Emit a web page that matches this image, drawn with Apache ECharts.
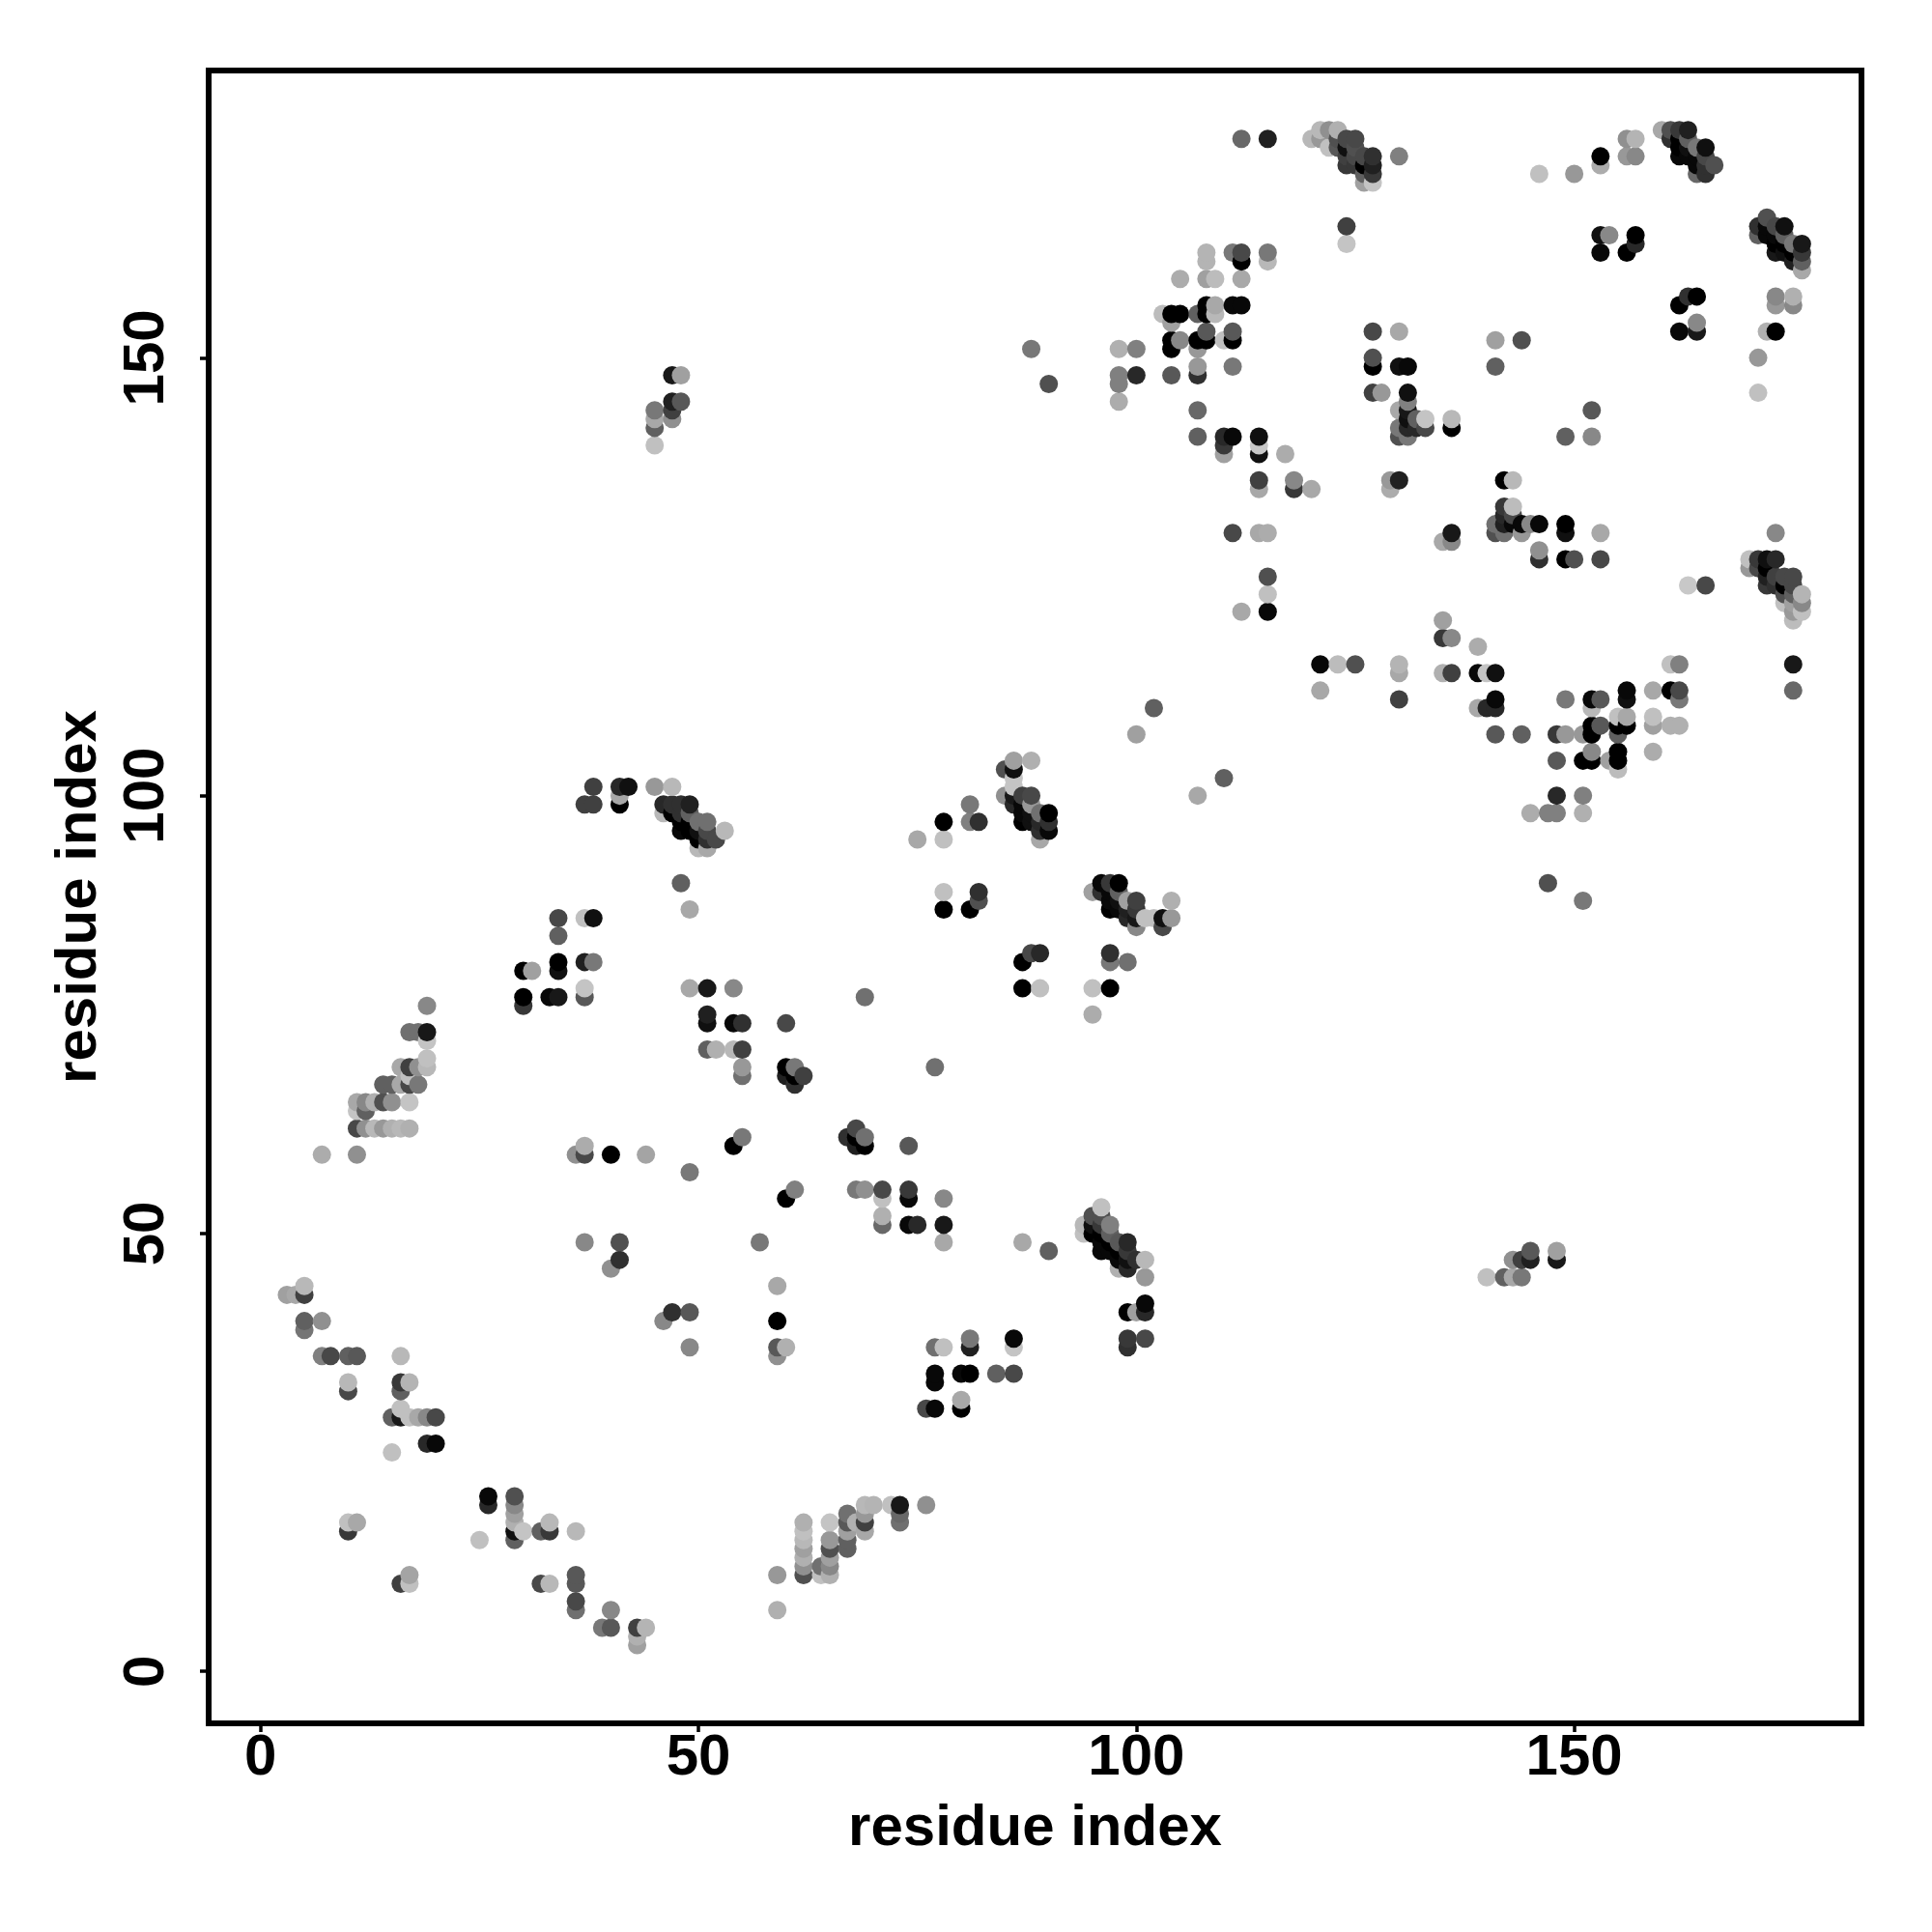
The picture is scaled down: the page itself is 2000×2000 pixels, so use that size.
<!DOCTYPE html>
<html><head><meta charset="utf-8">
<script src="https://cdn.jsdelivr.net/npm/echarts@6/dist/echarts.min.js"></script>
<style>html,body{margin:0;padding:0;background:#fff}#c{width:2000px;height:2000px}</style></head>
<body><div id="c"></div>
<script>
const tickValues=[0,50,100,150];
const axisTitle="residue index";
// each entry: residue i, residue j, grey level
const contactsA=[[3,43,0xa0],[4,43,0xa8],[5,39,0x75],[5,40,0x60],[5,43,0x40],[5,44,0xb8],[7,36,0x80],[7,40,0x90],[7,59,0xac],[8,36,0x48],
[10,16,0x38],[10,17,0xc0],[10,32,0x48],[10,33,0xb8],[10,36,0x60],[11,17,0xa8],[11,36,0x58],[11,59,0x90],[11,62,0x48],[11,64,0xc4],[11,65,0xa8],
[12,62,0x90],[12,64,0x60],[12,65,0x88],[13,62,0xb8],[13,65,0xb0],[14,62,0x98],[14,65,0x50],[14,67,0x60],[15,25,0xc0],[15,29,0x60],[15,62,0xb0],[15,65,0x90],[15,67,0x60],
[16,10,0x40],[16,29,0x18],[16,30,0xc0],[16,32,0x60],[16,33,0x38],[16,36,0xb8],[16,62,0xb8],[16,67,0xa8],[16,69,0xa8],
[17,10,0xc0],[17,11,0xa4],[17,29,0xc0],[17,33,0xb4],[17,62,0xb0],[17,65,0xc4],[17,67,0x48],[17,68,0xc0],[17,69,0x40],[17,73,0x70],
[18,29,0xa8],[18,67,0x78],[18,69,0x90],[18,73,0x70],[19,26,0x28],[19,29,0x88],[19,69,0xb8],[19,70,0xc0],[19,72,0xc4],[19,73,0x18],[19,76,0x88],[20,26,0x08],[20,29,0x48],
[25,15,0xc0],[26,19,0x28],[26,20,0x08],[29,15,0x60],[29,16,0x10],[29,17,0xb0],[29,18,0xa0],[29,19,0x88],[29,20,0x50],[30,16,0xc4],[30,76,0x38],[30,77,0x00],[30,80,0x00],[31,80,0xa0],
[32,10,0x48],[32,16,0x60],[33,10,0xb8],[33,16,0x38],[33,17,0xb8],[33,77,0x08],[34,77,0x18],[34,80,0x10],[34,81,0x00],[34,84,0x60],[34,86,0x48],
[36,7,0x70],[36,8,0x48],[36,10,0x58],[36,11,0x58],[36,16,0xb8],[36,59,0x90],[37,49,0x88],[37,59,0x48],[37,60,0xac],[37,77,0x58],[37,78,0xc4],[37,81,0x20],[37,86,0xc0],[37,99,0x40],
[38,81,0x78],[38,86,0x10],[38,99,0x40],[38,101,0x40],[39,5,0x78],[40,5,0x58],[40,7,0x88],[40,46,0x90],[40,59,0x00],[41,47,0x30],[41,49,0x50],[41,99,0x00],[41,100,0xa8],[41,101,0x28],[42,101,0x10],
[43,3,0xa0],[43,4,0xb0],[43,5,0x40],[44,5,0xb4],[44,59,0xa4],[45,101,0x98],[45,140,0xc0],[45,142,0x60],[45,143,0xa8],[45,144,0x78],[46,40,0x88],
[46,98,0xb8],[46,99,0x28],[47,41,0x30],[47,98,0x00],[47,99,0x30],[47,101,0xb8],[47,143,0x90],[47,144,0x40],[47,145,0x20],[47,148,0x18],[48,90,0x60],[48,96,0x08],[48,97,0x00],[48,98,0x30],[48,99,0x30],[48,145,0x58],[48,148,0xa0]];
const contactsB=[[49,37,0x88],[49,41,0x58],[49,57,0x78],[49,78,0xa8],[49,87,0xa8],[49,96,0x00],[49,97,0x00],[49,98,0x60],[49,99,0x20],[50,94,0xb8],[50,95,0x00],[50,96,0x10],[50,97,0x70],
[51,74,0x10],[51,75,0x20],[51,71,0x60],[51,78,0x18],[51,94,0xa8],[51,95,0x30],[51,96,0x48],[51,97,0x70],[52,71,0xb0],[52,95,0x48],[53,96,0xb8],
[54,60,0x00],[54,71,0xb8],[54,74,0x08],[54,78,0x88],[55,61,0x78],[55,68,0x70],[55,69,0x98],[55,71,0x40],[55,74,0x30],[57,49,0x78],
[59,7,0xb0],[59,11,0x98],[59,36,0x90],[59,37,0x58],[59,40,0x00],[59,44,0xa8],[60,37,0xb0],[60,54,0x00],[60,68,0x20],[60,69,0x00],[60,74,0x48],[61,55,0x80],[61,67,0x30],[61,68,0x00],[61,69,0x78],[62,68,0x40],
[62,11,0x50],[62,12,0x90],[62,13,0xb0],[62,14,0xa0],[62,15,0xb8],[62,16,0xc0],[62,17,0xb0],[64,11,0xc0],[64,12,0x70],[65,11,0xb0],[65,12,0x88],[65,13,0xa0],[65,14,0x50],[65,15,0x98],[65,17,0xc4],
[67,14,0x60],[67,15,0x60],[67,16,0xa0],[67,17,0x58],[67,18,0x70],[67,61,0x30],[68,17,0xb0],[68,55,0x78],[68,60,0x20],[68,61,0x00],[68,62,0x48],[69,16,0xa8],[69,17,0x40],[69,18,0x98],[69,19,0xb8],[69,55,0x90],[69,60,0x00],[69,61,0x70],[69,77,0x70],
[70,19,0xb4],[71,51,0x68],[71,52,0xb0],[71,54,0xc0],[71,55,0x48],[72,19,0xc0],[73,17,0x70],[73,18,0x68],[73,19,0x18],[74,51,0x08],[74,54,0x08],[74,55,0x38],[74,60,0x58],[75,51,0x28],[75,95,0xa8],[76,19,0x90],[76,30,0x48],
[77,30,0x08],[77,33,0x08],[77,34,0x08],[77,37,0x70],[77,69,0x70],[78,37,0xc0],[78,49,0xa8],[78,51,0x18],[78,54,0x88],[78,87,0x00],[78,89,0xc0],[78,95,0xc0],[78,97,0x00],
[80,30,0x00],[80,31,0xa8],[80,34,0x08],[81,34,0x00],[81,37,0x20],[81,38,0x78],[81,87,0x00],[81,97,0x80],[81,99,0x78],[82,88,0x50],[82,89,0x30],[82,97,0x30],
[84,34,0x60],[85,100,0x90],[85,103,0x50],[86,34,0x48],[86,37,0xc4],[86,38,0x08],[86,99,0x28],[86,100,0x18],[86,101,0xc4],[86,102,0xc4],[86,103,0x10],[86,104,0xa0],
[87,49,0xa8],[87,78,0x00],[87,81,0x00],[87,97,0x00],[87,98,0x08],[87,99,0x08],[87,100,0x40],[88,82,0x48],[88,97,0x10],[88,98,0x10],[88,99,0x98],[88,100,0x48],[88,104,0xb0],[88,151,0x78],
[89,78,0xc0],[89,82,0x28],[89,95,0xa8],[89,96,0x30],[89,97,0x28],[89,98,0x70],[90,48,0x60],[90,96,0x08],[90,97,0x30],[90,98,0x00],[90,147,0x50]];
const contactsC=[[94,50,0xc0],[94,51,0xb8],[95,50,0x00],[95,51,0x10],[95,52,0x50],[95,75,0xac],[95,78,0xc0],[95,89,0xa0],[96,48,0x08],[96,49,0x08],[96,50,0x00],[96,51,0x38],[96,52,0x50],[96,53,0xc0],[96,89,0x30],[96,90,0x08],
[97,48,0x08],[97,49,0x00],[97,50,0x60],[97,51,0x80],[97,78,0x00],[97,81,0x78],[97,82,0x30],[97,87,0x00],[97,88,0x08],[97,89,0x08],[97,90,0x38],
[98,46,0xb0],[98,47,0x08],[98,48,0x00],[98,49,0x58],[98,87,0x08],[98,88,0x10],[98,89,0x60],[98,90,0x00],[98,145,0xac],[98,147,0x80],[98,148,0x80],[98,151,0xb0],
[99,37,0x30],[99,38,0x38],[99,41,0x00],[99,46,0x28],[99,47,0x10],[99,48,0x38],[99,49,0x28],[99,81,0x70],[99,86,0x28],[99,87,0x20],[99,88,0xa0],
[100,41,0xa0],[100,47,0x30],[100,85,0x88],[100,86,0x18],[100,87,0x38],[100,88,0x40],[100,107,0xa0],[100,148,0x28],[100,151,0x80],
[101,38,0x48],[101,41,0x28],[101,42,0x08],[101,45,0x98],[101,47,0xb8],[101,86,0xc0],[102,86,0xc0],[102,110,0x60],[103,85,0x48],[103,86,0x10],[103,155,0xbc],
[104,86,0x98],[104,88,0xb0],[104,148,0x58],[104,151,0x00],[104,152,0x00],[104,154,0xa0],[104,155,0x00],[105,152,0x88],[105,155,0x00],[105,159,0xac],
[107,100,0xa8],[107,141,0x60],[107,144,0x68],[107,148,0x30],[107,149,0x98],[107,151,0x98],[107,152,0x00],[107,155,0x60],
[108,152,0x00],[108,153,0x58],[108,155,0x00],[108,156,0x00],[108,159,0xa0],[108,161,0xb4],[108,162,0xb4],[109,155,0xb8],[109,156,0xa8],[109,159,0xbc],
[110,102,0x60],[110,139,0xa0],[110,140,0x38],[110,141,0x28],[110,152,0xc0],[111,130,0x48],[111,141,0x08],[111,149,0x78],[111,152,0x00],[111,153,0x58],[111,156,0x08],[111,162,0x78],
[112,121,0xa8],[112,156,0x08],[112,159,0xa8],[112,161,0x00],[112,162,0x48],[112,175,0x68],
[114,130,0xa8],[114,135,0xa8],[114,136,0x40],[114,139,0x10],[114,140,0xc8],[114,141,0x10],[115,121,0x08],[115,123,0xc0],[115,125,0x50],[115,130,0xac],[115,161,0xb8],[115,162,0x78],[115,175,0x20],
[117,139,0xac],[118,135,0x38],[118,136,0x88],[120,135,0xa8],[120,175,0xb8],[121,112,0xa8],[121,115,0x08],[121,175,0x98],[121,176,0xb8],[122,174,0xc0],[122,176,0x90],
[123,115,0xbc],[123,174,0x58],[123,175,0x50],[123,176,0xb0],[124,163,0xc4],[124,165,0x40],[124,172,0x38],[124,173,0x40],[124,174,0x10],[124,175,0x48],
[125,115,0x50],[125,172,0x38],[125,173,0x48],[125,174,0x50],[125,175,0x48],[126,170,0xa0],[126,171,0x60],[126,172,0x00],[126,173,0x48],[127,146,0x40],[127,149,0x00],[127,150,0x50],[127,153,0x48],[127,170,0xc4],[127,171,0x38],[127,172,0x20],[127,173,0x30],[128,146,0x98]];
const contactsD=[[129,135,0xac],[129,136,0x98],[130,111,0x40],[130,114,0xa8],[130,115,0xb4],[130,136,0x20],[130,141,0x50],[130,142,0x78],[130,144,0xa8],[130,149,0x10],[130,153,0xa8],[130,173,0x80],
[131,141,0x78],[131,142,0x28],[131,143,0x10],[131,144,0x18],[131,145,0x80],[131,146,0x10],[131,149,0x08],[132,142,0x28],[132,143,0x60],[133,142,0x48],[133,143,0xc4],
[135,114,0xb0],[135,118,0x38],[135,120,0xa0],[135,129,0xa8],[136,114,0x40],[136,118,0x88],[136,129,0x88],[136,130,0x18],[136,142,0x00],[136,143,0xb8],
[139,110,0xa8],[139,114,0x08],[139,117,0xac],[140,45,0xc0],[140,110,0x28],[140,114,0xc4],[141,107,0x58],[141,110,0x28],[141,111,0x08],[141,114,0x10],[141,130,0x50],[141,131,0x70],[141,149,0x60],[141,152,0xa0],
[142,45,0x60],[142,130,0x70],[142,131,0x20],[142,132,0x28],[142,133,0x38],[142,136,0x00],[143,45,0xa8],[143,47,0x90],[143,131,0x08],[143,132,0x48],[143,133,0xbc],[143,136,0xb8],
[144,45,0x78],[144,47,0x40],[144,107,0x60],[144,130,0x98],[144,131,0x08],[144,152,0x50],[145,47,0x20],[145,48,0x58],[145,98,0xac],[145,131,0x88],[146,127,0x30],[146,128,0x90],[146,131,0x08],[146,171,0xc0],
[147,90,0x50],[147,98,0x80],[148,47,0x18],[148,48,0xa0],[148,98,0x80],[148,100,0x28],[148,104,0x58],[148,107,0x38],[149,107,0x98],[149,111,0x78],[149,127,0x00],[149,130,0x10],[149,131,0x00],[149,141,0x60],
[150,127,0x50],[150,171,0x98],[151,88,0x78],[151,98,0xb0],[151,100,0x80],[151,104,0x00],[151,107,0x98],[152,104,0x00],[152,105,0x88],[152,107,0x00],[152,108,0x00],[152,110,0xb8],[152,111,0x08],[152,141,0x88],[152,144,0x58],
[153,108,0x58],[153,111,0x58],[153,127,0x48],[153,130,0xa8],[153,162,0x08],[153,164,0x10],[153,172,0xac],[153,173,0x00],[154,104,0xa0],[154,164,0x88],
[155,103,0xbc],[155,104,0x00],[155,105,0x00],[155,107,0x60],[155,108,0x00],[155,109,0xc0],[156,108,0x00],[156,109,0xa8],[156,111,0x10],[156,112,0x08],[156,162,0x00],[156,173,0x98],[156,175,0x90],
[157,163,0x28],[157,164,0x00],[157,173,0x88],[157,175,0xb4],[159,105,0xac],[159,108,0xa0],[159,109,0xc0],[159,112,0xa8],[160,176,0xa8],
[161,108,0xb0],[161,112,0x00],[161,115,0xc0],[161,175,0x30],[161,176,0x50],[162,108,0xb0],[162,111,0x78],[162,112,0x48],[162,115,0x80],[162,153,0x08],[162,156,0x00],[162,173,0x08],[162,174,0x00],[162,175,0x00],[162,176,0x38],
[163,124,0xc8],[163,157,0x30],[163,173,0x08],[163,174,0x10],[163,175,0x60],[163,176,0x20],[164,153,0x18],[164,154,0x88],[164,157,0x00],[164,171,0x68],[164,172,0x08],[164,173,0x08],[164,174,0x78],
[165,124,0x48],[165,171,0x30],[165,172,0x30],[165,173,0x48],[165,174,0x10],[166,172,0x50],
[170,126,0x98],[170,127,0xc0],[171,126,0x48],[171,127,0x38],[171,146,0xc0],[171,150,0x98],[171,164,0x60],[171,165,0x30],[172,124,0x38],[172,125,0x20],[172,126,0x00],[172,127,0x10],[172,153,0xb0],[172,164,0x08],[172,165,0x08],[172,166,0x50],
[173,124,0x30],[173,125,0x40],[173,127,0x28],[173,130,0x88],[173,153,0x00],[173,156,0x98],[173,157,0x88],[173,162,0x18],[173,163,0x00],[173,164,0x08],[173,165,0x48],
[174,122,0xc0],[174,123,0x50],[174,124,0x00],[174,125,0x48],[174,162,0x10],[174,163,0x00],[174,164,0x60],[174,165,0x10],
[175,112,0x68],[175,115,0x18],[175,120,0xbc],[175,121,0x98],[175,122,0xa0],[175,123,0x60],[175,124,0x48],[175,125,0x48],[175,156,0x88],[175,157,0xb0],[175,161,0x20],[175,162,0x00],[175,163,0x78],
[176,121,0xc0],[176,122,0x88],[176,123,0xb4],[176,160,0xa8],[176,161,0x60],[176,162,0x38],[176,163,0x18]];

const contacts=[...contactsA,...contactsB,...contactsC,...contactsD]
  .sort((a,b)=>a[0]-b[0]||a[1]-b[1]);
const font='"Liberation Sans"';
function axis(extra){
  return Object.assign({
    type:'value',min:-5.93,max:182.8,
    name:axisTitle,nameLocation:'middle',
    nameTextStyle:{fontFamily:font,fontWeight:'bold',fontSize:60,color:'#000'},
    axisLine:{show:false,onZero:false},
    splitLine:{show:false},
    axisTick:{show:true,length:9,customValues:tickValues,lineStyle:{color:'#000',width:3.5}},
    axisLabel:{show:true,customValues:tickValues,margin:6,fontFamily:font,fontWeight:'bold',fontSize:60,color:'#000',formatter:v=>String(v)}
  },extra);
}
const chart=echarts.init(document.getElementById('c'),null,{renderer:'canvas',width:2000,height:2000});
chart.setOption({
  animation:false,backgroundColor:'#fff',
  grid:{left:216,top:73,width:1711,height:1711,show:true,borderColor:'#000',borderWidth:6,backgroundColor:'transparent',containLabel:false},
  xAxis:axis({nameGap:79}),
  yAxis:axis({nameGap:104,axisLabel:{show:true,customValues:tickValues,rotate:90,fontFamily:font,fontWeight:'bold',fontSize:60,color:'#000',margin:34,formatter:v=>String(v)}}),
  series:[{type:'scatter',symbol:'circle',symbolSize:19,large:false,clip:true,
    itemStyle:{opacity:1},
    data:contacts.map(c=>({value:[c[0],c[1]],itemStyle:{opacity:1,color:`rgb(${c[2]},${c[2]},${c[2]})`}}))}]
});
</script></body></html>
